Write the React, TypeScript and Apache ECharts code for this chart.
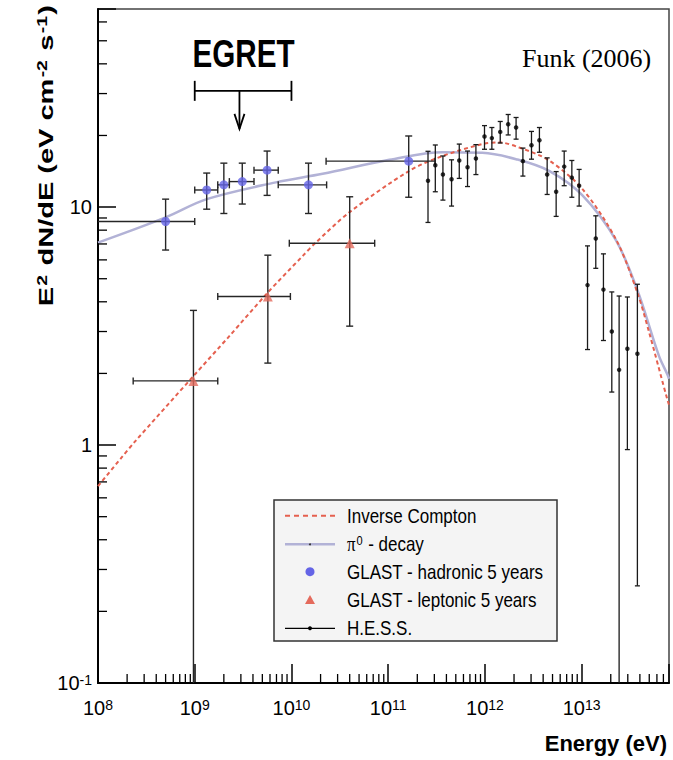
import React, { useEffect, useRef } from 'react';
import * as echarts from 'echarts';

// ---- axes ----
const X_MIN = 1e8;
const X_MAX = 8e13;
const Y_MIN = 0.1;
const Y_MAX = 68;
const xDecades = [1e8, 1e9, 1e10, 1e11, 1e12, 1e13];
const yDecades = [0.1, 1, 10];
const minorMultipliers = [2, 3, 4, 5, 6, 7, 8, 9];

// ---- GLAST hadronic 5 years ----
const hadE = [5e8, 1.33e9, 2e9, 3.1e9, 5.6e9, 1.5e10, 1.63e11];
const hadF = [8.7, 11.8, 12.4, 12.8, 14.3, 12.4, 15.6];
const hadFLo = [6.6, 9.8, 9.4, 10.3, 11.2, 9.4, 11.0];
const hadFHi = [10.8, 13.9, 15.3, 15.3, 17.2, 15.3, 19.9];
const hadELo = [1e8, 1e9, 1.73e9, 2.28e9, 4.1e9, 7.3e9, 2.28e10];
const hadEHi = [1e9, 1.73e9, 2.28e9, 4.1e9, 7.3e9, 2.31e10, 3.04e11];

// ---- GLAST leptonic 5 years ----
const lepE = [9.7e8, 5.7e9, 4.0e10];
const lepF = [1.86, 4.21, 7.05];
const lepFLo = [0.1, 2.21, 3.16];
const lepFHi = [3.68, 6.28, 11.05];
const lepELo = [2.31e8, 1.73e9, 9.5e9];
const lepEHi = [1.73e9, 9.75e9, 7.25e10];

// ---- H.E.S.S. ----
const hessE = [2.58e11, 3.07e11, 3.68e11, 4.52e11, 5.43e11, 6.61e11, 8.07e11, 9.9e11, 1.18e12, 1.44e12,
  1.74e12, 2.1e12, 2.47e12, 3.03e12, 3.66e12, 4.4e12, 5.45e12, 6.6e12, 7.92e12, 9.42e12,
  1.15e13, 1.4e13, 1.68e13, 2.05e13, 2.44e13, 2.97e13, 3.77e13];
const hessF = [12.9, 15.0, 13.7, 13.1, 15.7, 14.7, 16.0, 19.8, 19.5, 20.7,
  22.3, 21.6, 15.6, 18.2, 19.1, 13.7, 11.6, 14.8, 13.3, 12.3,
  4.7, 7.38, 4.5, 3.0, 2.07, 2.54, 2.42];
const hessFLo = [8.62, 11.6, 10.7, 10.1, 13.2, 12.2, 13.7, 17.5, 17.5, 18.6,
  20.1, 19.3, 13.5, 15.9, 17.0, 11.3, 9.14, 12.3, 11.0, 10.1,
  2.52, 5.53, 2.75, 1.67, 0.1, 0.957, 0.256];
const hessFHi = [17.16, 18.24, 16.4, 15.8, 18.4, 17.2, 18.3, 22.0, 21.6, 22.9,
  24.5, 23.8, 17.7, 20.8, 21.6, 16.1, 14.1, 17.2, 15.7, 14.4,
  6.87, 9.19, 6.36, 4.4, 4.23, 4.19, 4.74];

// ---- model curves ----
const icE = [1e8, 1.74e8, 2.38e8, 9.7e8, 2.28e9, 5.68e9, 1.31e10, 1.79e10, 3.96e10, 1.65e11, 3.65e11,
  9.44e11, 1.41e12, 2.26e12, 4.61e12, 1.02e13, 2.26e13, 3.77e13, 4.98e13, 7.7e13, 8e13];
const icF = [0.672, 0.883, 1.028, 1.95, 2.87, 4.37, 6.24, 7.1, 9.5, 14.2, 16.4,
  18.4, 18.7, 17.8, 15.7, 11.9, 7.33, 4.37, 2.98, 1.55, 1.48];
const pi0E = [1e8, 5e8, 1.33e9, 6.9e9, 2.1e10, 1.03e11, 3.65e11, 9.4e11, 2.1e12, 4.6e12, 1.02e13,
  2.26e13, 3.77e13, 6.3e13, 7.7e13, 8e13];
const pi0F = [7.09, 9.05, 10.8, 12.7, 13.8, 15.8, 17.0, 16.9, 15.9, 14.2, 11.2,
  7.26, 4.47, 2.37, 1.98, 1.9];

// ---- EGRET annotation ----
const egretELo = 1e9;
const egretEHi = 1e10;
const egretF = 30.8;
const egretArrowE = 2.9e9;
const egretLabelE = 3.2e9;
const egretLabelF = 44;

// ---- legend ----
const legendLabels = ['Inverse Compton', 'π0 - decay', 'GLAST - hadronic 5 years', 'GLAST - leptonic 5 years', 'H.E.S.S.'];

const C_IC = '#e5604f';
const C_PI0 = '#b2b2d6';
const C_HAD = '#6464e6';
const C_LEP = '#e46a5c';
const C_BAR = '#262626';
const FONT = "'Liberation Sans', Arial, Helvetica, sans-serif";

function minorTicks(decades: number[], lo: number, hi: number) {
  const out: number[] = [];
  decades.forEach((d) => minorMultipliers.forEach((m) => {
    const v = d * m;
    if (v > lo && v < hi) out.push(v);
  }));
  return out;
}

const ln = (x1: number, y1: number, x2: number, y2: number, style: any) => ({
  type: 'line', shape: { x1, y1, x2, y2 }, style,
});

function expLabel(v: number) {
  const e = Math.log10(v);
  const r = Math.round(e);
  if (Math.abs(e - r) > 1e-6) return '';
  return `{b|10}{s|${r}}`;
}

const labelRich = {
  b: { fontSize: 20, lineHeight: 20, fontFamily: FONT, color: '#000', verticalAlign: 'bottom' },
  s: { fontSize: 14, lineHeight: 14, fontFamily: FONT, color: '#000', verticalAlign: 'top', padding: [0, 0, 12, 0] },
};

export default function App() {
  const ref = useRef<HTMLDivElement>(null);
  useEffect(() => {
    const chart = echarts.init(ref.current!, null, { renderer: 'svg' });

    const hadData = hadE.map((e, i) => [e, hadF[i], hadFLo[i], hadFHi[i], hadELo[i], hadEHi[i]]);
    const lepData = lepE.map((e, i) => [e, lepF[i], lepFLo[i], lepFHi[i], lepELo[i], lepEHi[i]]);
    const hessData = hessE.map((e, i) => [e, hessF[i], hessFLo[i], hessFHi[i]]);

    const glastBars = (params: any, api: any) => {
      const x = api.value(0), y = api.value(1), lo = api.value(2), hi = api.value(3);
      const xl = api.value(4), xh = api.value(5);
      const c = api.coord([x, y]);
      const pLo = api.coord([x, Math.max(lo, Y_MIN)]);
      const pHi = api.coord([x, hi]);
      const pL = api.coord([Math.max(xl, X_MIN), y]);
      const pR = api.coord([xh, y]);
      const st = { stroke: C_BAR, lineWidth: 1.4 };
      const cap = 3.5;
      const children: any[] = [
        ln(c[0], pHi[1], c[0], pLo[1], st),
        ln(c[0] - cap, pHi[1], c[0] + cap, pHi[1], st),
        ln(pL[0], c[1], pR[0], c[1], st),
        ln(pR[0], c[1] - cap, pR[0], c[1] + cap, st),
      ];
      if (lo > Y_MIN) children.push(ln(c[0] - cap, pLo[1], c[0] + cap, pLo[1], st));
      if (xl > X_MIN) children.push(ln(pL[0], c[1] - cap, pL[0], c[1] + cap, st));
      return { type: 'group', children };
    };

    const hessBars = (params: any, api: any) => {
      const x = api.value(0), lo = api.value(2), hi = api.value(3);
      const pLo = api.coord([x, Math.max(lo, Y_MIN)]);
      const pHi = api.coord([x, hi]);
      const st = { stroke: '#1a1a1a', lineWidth: 1.3 };
      const cap = 2.5;
      const children: any[] = [
        ln(pHi[0], pHi[1], pLo[0], pLo[1], st),
        ln(pHi[0] - cap, pHi[1], pHi[0] + cap, pHi[1], st),
      ];
      if (lo > Y_MIN) children.push(ln(pLo[0] - cap, pLo[1], pLo[0] + cap, pLo[1], st));
      return { type: 'group', children };
    };

    const xMinor = minorTicks(xDecades, X_MIN, X_MAX).map((v) => [v, Y_MIN]);
    const yMinor = minorTicks(yDecades, Y_MIN, Y_MAX).map((v) => [X_MIN, v]);

    const tickStyle = { stroke: '#000', lineWidth: 1.3 };

    const legendY = [515.7, 544.3, 571.7, 600, 628.3];
    const legX1 = 285, legX2 = 335, legMid = 310, legText = 347;
    const legTextStyle = (txt: string) => ({ text: txt, fontSize: 20, fontFamily: FONT, fill: '#000', verticalAlign: 'middle', align: 'left' });

    const option: any = {
      animation: false,
      backgroundColor: '#fff',
      textStyle: { fontFamily: FONT },
      grid: {
        left: 98, top: 9, width: 571, height: 674,
        show: true, borderColor: '#444', borderWidth: 1.5, backgroundColor: 'transparent',
      },
      xAxis: {
        type: 'log', logBase: 10, min: X_MIN, max: X_MAX,
        axisLine: { show: true, onZero: false, lineStyle: { color: '#000', width: 2 } },
        axisTick: { show: true, inside: true, length: 19, lineStyle: { color: '#000', width: 1.5 } },
        splitLine: { show: false },
        minorTick: { show: false },
        axisLabel: { margin: 15, formatter: expLabel, rich: labelRich, showMinLabel: true, showMaxLabel: true },
      },
      yAxis: {
        type: 'log', logBase: 10, min: Y_MIN, max: Y_MAX,
        axisLine: { show: true, onZero: false, lineStyle: { color: '#000', width: 2 } },
        axisTick: { show: true, inside: true, length: 18, lineStyle: { color: '#000', width: 1.5 } },
        splitLine: { show: false },
        minorTick: { show: false },
        axisLabel: {
          margin: 6,
          formatter: (v: number) => {
            const e = Math.log10(v);
            const r = Math.round(e);
            if (Math.abs(e - r) > 1e-6) return '';
            if (r === 0) return '{b|1}';
            if (r === 1) return '{b|10}';
            return `{b|10}{s|${r}}`;
          },
          rich: labelRich,
        },
      },
      series: [
        {
          name: 'x minor ticks', type: 'custom', data: xMinor, encode: { x: 0, y: 1 }, z: 6, silent: true,
          renderItem: (p: any, api: any) => {
            const c = api.coord([api.value(0), api.value(1)]);
            return ln(c[0], c[1], c[0], c[1] - 9, tickStyle);
          },
        },
        {
          name: 'y minor ticks', type: 'custom', data: yMinor, encode: { x: 0, y: 1 }, z: 6, silent: true,
          renderItem: (p: any, api: any) => {
            const c = api.coord([api.value(0), api.value(1)]);
            return ln(c[0], c[1], c[0] + 9, c[1], tickStyle);
          },
        },
        {
          name: 'π0 - decay', type: 'line', data: pi0E.map((e, i) => [e, pi0F[i]]),
          showSymbol: false, smooth: 0.35, z: 2,
          lineStyle: { color: C_PI0, width: 2.5 },
        },
        {
          name: 'Inverse Compton', type: 'line', data: icE.map((e, i) => [e, icF[i]]),
          showSymbol: false, smooth: 0.3, z: 2,
          lineStyle: { color: C_IC, width: 2, type: [4, 3] },
        },
        {
          name: 'H.E.S.S. bars', type: 'custom', data: hessData, encode: { x: 0, y: 1 }, z: 3, renderItem: hessBars,
        },
        {
          name: 'GLAST hadronic bars', type: 'custom', data: hadData, encode: { x: 0, y: 1 }, z: 3, renderItem: glastBars,
        },
        {
          name: 'GLAST leptonic bars', type: 'custom', data: lepData, encode: { x: 0, y: 1 }, z: 3, renderItem: glastBars,
        },
        {
          name: 'H.E.S.S.', type: 'scatter', data: hessData.map((d) => [d[0], d[1]]),
          symbol: 'circle', symbolSize: 4.5, itemStyle: { color: '#000' }, z: 4,
        },
        {
          name: 'GLAST - hadronic 5 years', type: 'scatter', data: hadData.map((d) => [d[0], d[1]]),
          symbol: 'circle', symbolSize: 9, itemStyle: { color: C_HAD }, z: 4,
        },
        {
          name: 'GLAST - leptonic 5 years', type: 'scatter', data: lepData.map((d) => [d[0], d[1]]),
          symbol: 'triangle', symbolSize: 10, itemStyle: { color: C_LEP }, z: 4,
        },
        {
          name: 'EGRET', type: 'custom', data: [[egretArrowE, egretF, egretELo, egretEHi, egretLabelE, egretLabelF]],
          encode: { x: 0, y: 1 }, z: 5, clip: false,
          renderItem: (p: any, api: any) => {
            const a = api.coord([api.value(0), api.value(1)]);
            const l = api.coord([api.value(2), api.value(1)]);
            const r = api.coord([api.value(3), api.value(1)]);
            const t = api.coord([api.value(4), api.value(5)]);
            const st = { stroke: '#000', lineWidth: 1.8 };
            const tipY = a[1] + 38;
            return {
              type: 'group',
              children: [
                ln(l[0], a[1], r[0], a[1], st),
                ln(l[0], a[1] - 10, l[0], a[1] + 10, st),
                ln(r[0], a[1] - 10, r[0], a[1] + 10, st),
                ln(a[0], a[1], a[0], tipY, st),
                { type: 'polyline', shape: { points: [[a[0] - 5, tipY - 15], [a[0], tipY], [a[0] + 5, tipY - 15]] }, style: { stroke: '#000', lineWidth: 1.8, fill: null } },
                {
                  type: 'text', x: t[0], y: t[1], scaleX: 0.78,
                  style: { text: 'EGRET', fontSize: 38, fontWeight: 'bold', fontFamily: FONT, fill: '#000', align: 'center', verticalAlign: 'middle' },
                },
              ],
            };
          },
        },
      ],
      graphic: [
        {
          type: 'text', x: 46, y: 5, rotation: Math.PI / 2, scaleX: 1.38, z: 10,
          style: {
            text: '{m|E}{s|2}{m| dN/dE (eV cm}{s|-2}{m| s}{s|-1}{m|)}',
            align: 'right', verticalAlign: 'middle', fill: '#000',
            rich: {
              m: { fontSize: 21, fontWeight: 'bold', fontFamily: FONT, fill: '#000', verticalAlign: 'bottom', lineHeight: 21 },
              s: { fontSize: 14, fontWeight: 'bold', fontFamily: FONT, fill: '#000', verticalAlign: 'top', lineHeight: 14, padding: [0, 1, 10, 1] },
            },
          },
        },
        {
          type: 'text', x: 667, y: 743, z: 10,
          style: { text: 'Energy (eV)', fontSize: 22, fontWeight: 'bold', fontFamily: FONT, fill: '#000', align: 'right', verticalAlign: 'middle' },
        },
        {
          type: 'text', x: 522, y: 58, z: 10,
          style: { text: 'Funk (2006)', fontSize: 26, fontFamily: "'Liberation Serif', 'Times New Roman', serif", fill: '#000', align: 'left', verticalAlign: 'middle' },
        },
        {
          type: 'group', z: 20,
          children: [
            { type: 'rect', shape: { x: 274, y: 500, width: 283, height: 141 }, style: { fill: '#f4f4f4', stroke: '#333', lineWidth: 1.5 } },
            { type: 'line', shape: { x1: legX1, y1: legendY[0], x2: legX2, y2: legendY[0] }, style: { stroke: C_IC, lineWidth: 2, lineDash: [5, 4] } },
            { type: 'line', shape: { x1: legX1, y1: legendY[1], x2: legX2, y2: legendY[1] }, style: { stroke: C_PI0, lineWidth: 2.5 } },
            { type: 'circle', shape: { cx: legMid, cy: legendY[1], r: 1 }, style: { fill: '#333' } },
            { type: 'circle', shape: { cx: legMid, cy: legendY[2], r: 4.5 }, style: { fill: C_HAD } },
            { type: 'polygon', shape: { points: [[legMid, legendY[3] - 5], [legMid + 5, legendY[3] + 4], [legMid - 5, legendY[3] + 4]] }, style: { fill: C_LEP } },
            { type: 'line', shape: { x1: legX1, y1: legendY[4], x2: legX2, y2: legendY[4] }, style: { stroke: '#000', lineWidth: 1.3 } },
            { type: 'circle', shape: { cx: legMid, cy: legendY[4], r: 2 }, style: { fill: '#000' } },
            { type: 'text', x: legText, y: legendY[0], scaleX: 0.85, style: legTextStyle(legendLabels[0]) },
            {
              type: 'text', x: legText, y: legendY[1], scaleX: 0.85,
              style: {
                text: '{g|π}{s|0}{t| - decay}', verticalAlign: 'middle', align: 'left', fill: '#000',
                rich: {
                  g: { fontSize: 20, fontFamily: "'Liberation Serif', serif", fill: '#000', verticalAlign: 'bottom', lineHeight: 20 },
                  s: { fontSize: 13, fontFamily: FONT, fill: '#000', verticalAlign: 'top', lineHeight: 13, padding: [0, 1, 9, 1] },
                  t: { fontSize: 20, fontFamily: FONT, fill: '#000', verticalAlign: 'bottom', lineHeight: 20 },
                },
              },
            },
            { type: 'text', x: legText, y: legendY[2], scaleX: 0.85, style: legTextStyle(legendLabels[2]) },
            { type: 'text', x: legText, y: legendY[3], scaleX: 0.85, style: legTextStyle(legendLabels[3]) },
            { type: 'text', x: legText, y: legendY[4], scaleX: 0.85, style: legTextStyle(legendLabels[4]) },
          ],
        },
      ],
    };

    chart.setOption(option);
    return () => chart.dispose();
  }, []);

  return (
    <div
      ref={ref}
      style={{ position: 'fixed', left: 0, top: 0, width: 673, height: 760, background: '#fff' }}
    />
  );
}
